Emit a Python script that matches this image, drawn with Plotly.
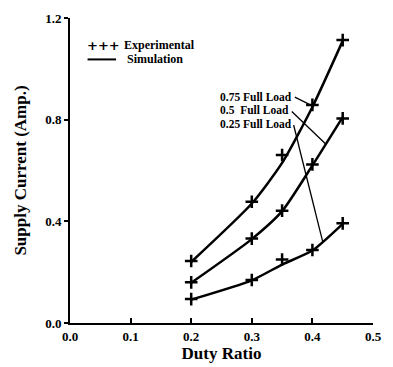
import plotly.graph_objects as go

duty = [0.2, 0.3, 0.35, 0.4, 0.45]
exp_075 = [0.244, 0.477, 0.661, 0.858, 1.113]
exp_050 = [0.160, 0.332, 0.442, 0.624, 0.805]
exp_025 = [0.094, 0.169, 0.250, 0.287, 0.392]
sim_075 = [0.240, 0.470, 0.630, 0.850, 1.110]
sim_050 = [0.158, 0.330, 0.440, 0.620, 0.810]
sim_025 = [0.092, 0.168, 0.230, 0.285, 0.390]
labels = ["0.75 Full Load", "0.5  Full Load", "0.25 Full Load"]
x_ticks = [0.0, 0.1, 0.2, 0.3, 0.4, 0.5]
y_ticks = [0.0, 0.4, 0.8, 1.2]

FONT = "Liberation Serif"
fig = go.Figure()
for s in [sim_075, sim_050, sim_025]:
    fig.add_trace(go.Scatter(x=duty, y=s, mode="lines",
                             line=dict(color="black", width=2.5, shape="spline", smoothing=0.6),
                             showlegend=False, hoverinfo="skip"))
for e in [exp_075, exp_050, exp_025]:
    fig.add_trace(go.Scatter(x=duty, y=e, mode="markers",
                             marker=dict(symbol="cross-thin", size=9, color="black",
                                         line=dict(color="black", width=2.5)),
                             showlegend=False))

# labels with leader lines
label_y = [0.889, 0.838, 0.783]
targets = [(0.395, 0.860), (0.4215, 0.705), (0.417, 0.32)]
starts = [(0.371, 0.889), (0.366, 0.832), (0.369, 0.779)]
for lab, ly, (sx, sy), (tx, ty) in zip(labels, label_y, starts, targets):
    fig.add_annotation(x=0.245, y=ly, xref="x", yref="y", text="<b>%s</b>" % lab.replace("  ", "&nbsp;&nbsp;"),
                       showarrow=False, xanchor="left", yanchor="middle",
                       font=dict(family=FONT, size=11.5, color="black"))
    fig.add_shape(type="line", x0=sx, y0=sy, x1=tx, y1=ty, xref="x", yref="y",
                  line=dict(color="black", width=1.3))

# legend (manual)
fig.add_annotation(x=0.024, y=1.092, xref="x", yref="y", text="<b>+++</b>", showarrow=False,
                   xanchor="left", yanchor="middle", font=dict(family="DejaVu Sans", size=13, color="black"))
fig.add_annotation(x=0.085, y=1.092, xref="x", yref="y", text="<b>Experimental</b>", showarrow=False,
                   xanchor="left", yanchor="middle", font=dict(family=FONT, size=12, color="black"))
fig.add_shape(type="line", x0=0.029, x1=0.076, y0=1.037, y1=1.037, xref="x", yref="y",
              line=dict(color="black", width=2))
fig.add_annotation(x=0.090, y=1.037, xref="x", yref="y", text="<b>Simulation</b>", showarrow=False,
                   xanchor="left", yanchor="middle", font=dict(family=FONT, size=12, color="black"))

fig.update_layout(
    width=393, height=367,
    margin=dict(l=70, r=11, t=18, b=44),
    paper_bgcolor="white", plot_bgcolor="white",
    font=dict(family=FONT, color="black"),
)
fig.update_xaxes(range=[0, 0.5], tickvals=x_ticks, ticktext=["<b>%.1f</b>" % v for v in x_ticks],
                 showgrid=False, zeroline=False, showline=True, linecolor="black", linewidth=2,
                 ticks="inside", ticklen=5, tickwidth=1.5, tickcolor="black",
                 tickfont=dict(family=FONT, size=13),
                 title=dict(text="<b>Duty Ratio</b>", font=dict(family=FONT, size=17), standoff=1))
fig.update_yaxes(range=[0, 1.2], tickvals=y_ticks, ticktext=["<b>%.1f</b>" % v for v in y_ticks],
                 showgrid=False, zeroline=False, showline=True, linecolor="black", linewidth=2,
                 ticks="outside", ticklen=4, tickwidth=1.5, tickcolor="black",
                 tickfont=dict(family=FONT, size=13),
                 title=dict(text="<b>Supply Current (Amp.)</b>", font=dict(family=FONT, size=17), standoff=14))

fig.write_html("out.html")
